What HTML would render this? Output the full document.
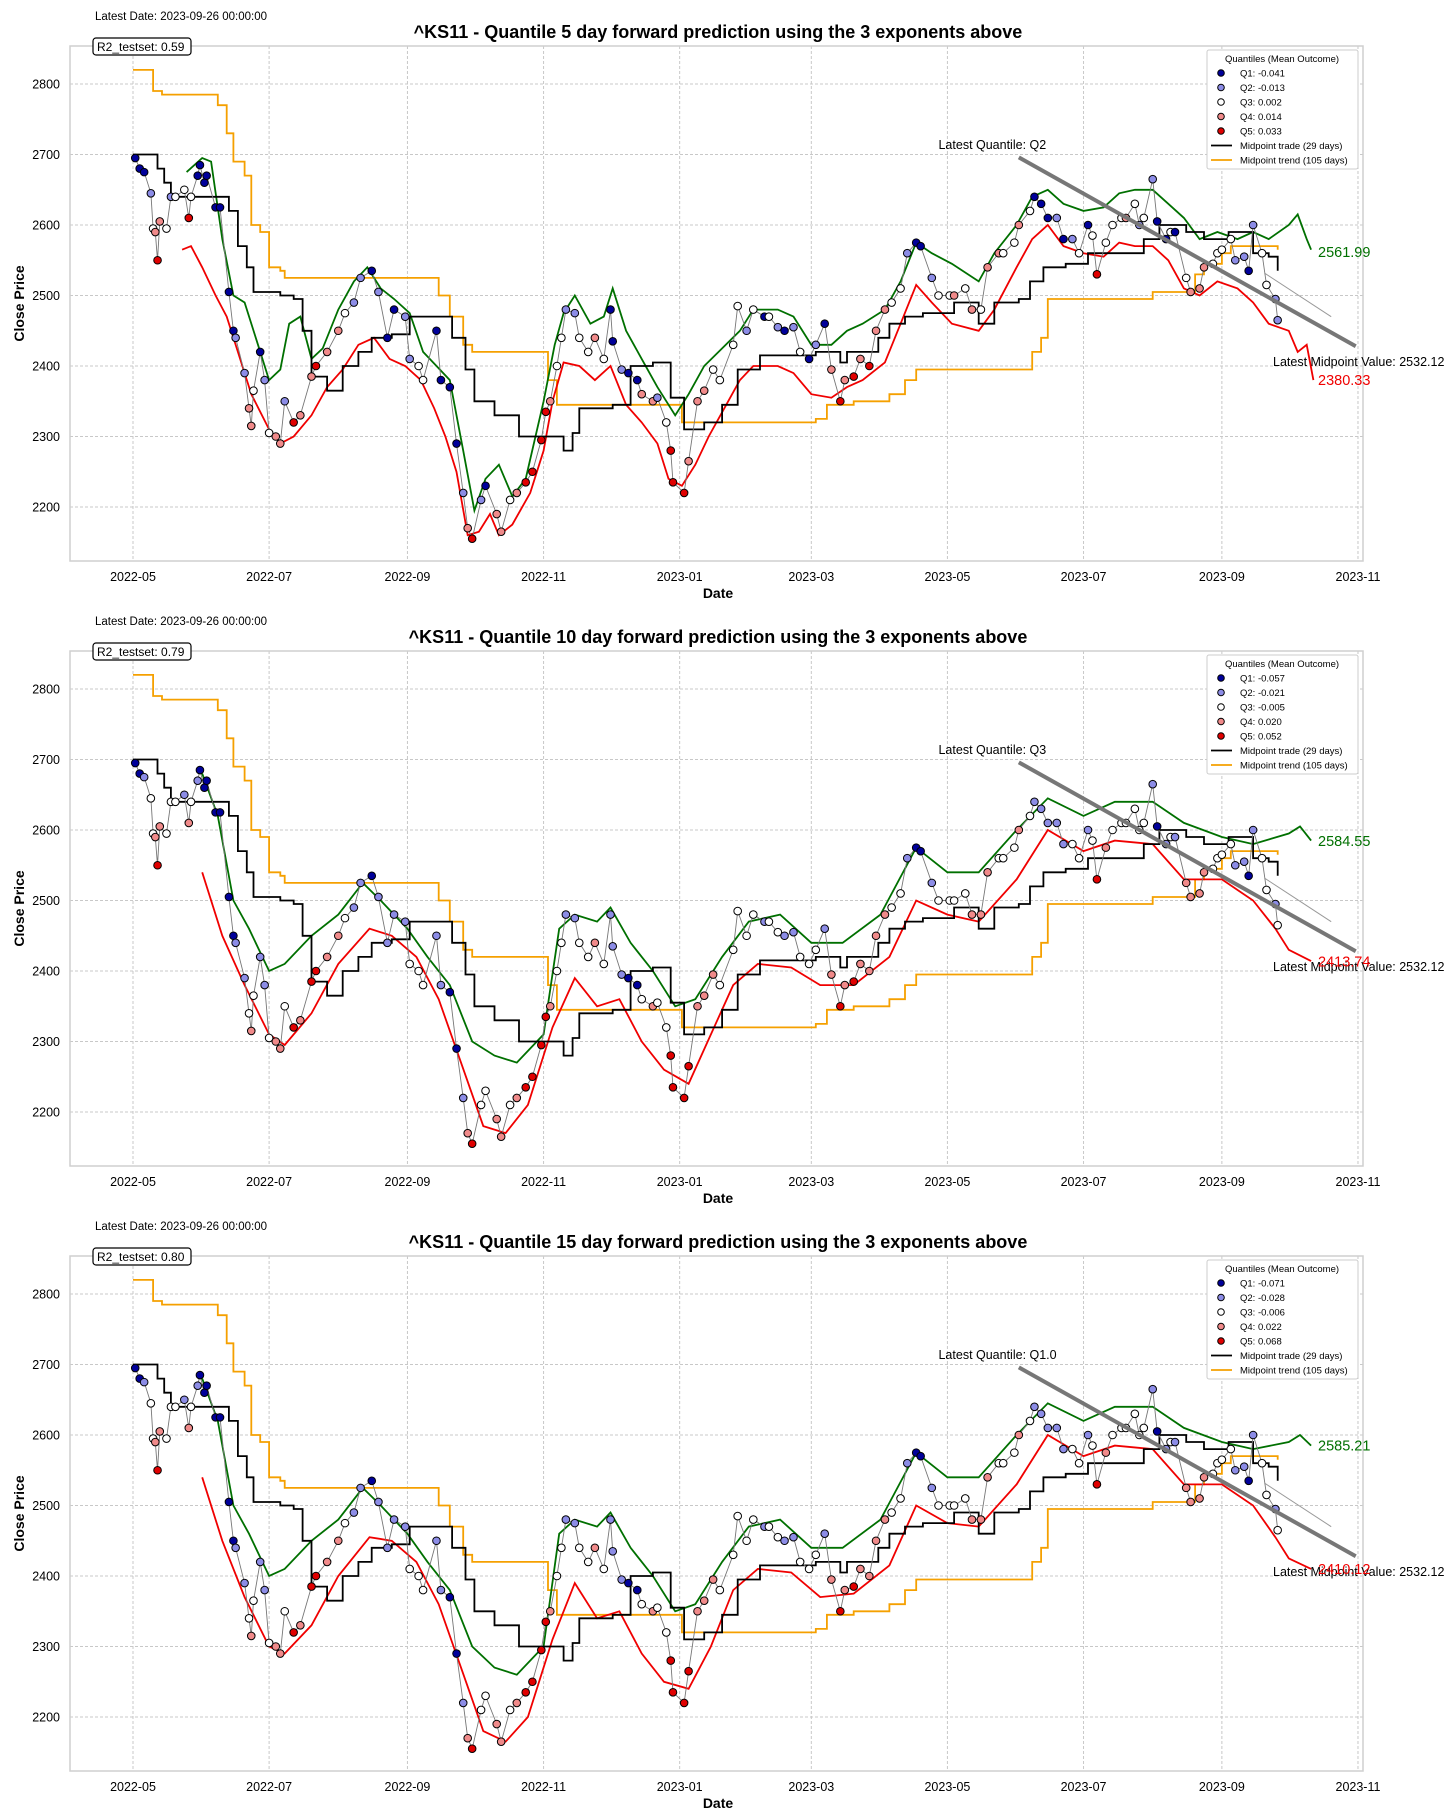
<!DOCTYPE html>
<html><head><meta charset="utf-8">
<style>
html,body{margin:0;padding:0;background:#fff;}
svg{display:block;font-family:"Liberation Sans",Arial,sans-serif;}
</style></head>
<body>
<svg id="chart" width="1456" height="1820" viewBox="0 0 1456 1820" xmlns="http://www.w3.org/2000/svg"></svg>
<script>
const dates=["2022-05-02","2022-05-04","2022-05-06","2022-05-09","2022-05-10","2022-05-11","2022-05-12","2022-05-13","2022-05-16","2022-05-18","2022-05-20","2022-05-24","2022-05-26","2022-05-27","2022-05-30","2022-05-31","2022-06-02","2022-06-03","2022-06-07","2022-06-09","2022-06-13","2022-06-15","2022-06-16","2022-06-20","2022-06-22","2022-06-23","2022-06-24","2022-06-27","2022-06-29","2022-07-01","2022-07-04","2022-07-06","2022-07-08","2022-07-12","2022-07-15","2022-07-20","2022-07-22","2022-07-27","2022-08-01","2022-08-04","2022-08-08","2022-08-11","2022-08-16","2022-08-19","2022-08-23","2022-08-26","2022-08-31","2022-09-02","2022-09-06","2022-09-08","2022-09-14","2022-09-16","2022-09-20","2022-09-23","2022-09-26","2022-09-28","2022-09-30","2022-10-04","2022-10-06","2022-10-11","2022-10-13","2022-10-17","2022-10-20","2022-10-24","2022-10-27","2022-10-31","2022-11-02","2022-11-04","2022-11-07","2022-11-09","2022-11-11","2022-11-15","2022-11-17","2022-11-21","2022-11-24","2022-11-28","2022-12-01","2022-12-02","2022-12-06","2022-12-09","2022-12-13","2022-12-15","2022-12-20","2022-12-22","2022-12-26","2022-12-28","2022-12-29","2023-01-03","2023-01-05","2023-01-09","2023-01-12","2023-01-16","2023-01-19","2023-01-25","2023-01-27","2023-01-31","2023-02-03","2023-02-08","2023-02-10","2023-02-14","2023-02-17","2023-02-21","2023-02-24","2023-02-28","2023-03-03","2023-03-07","2023-03-10","2023-03-14","2023-03-16","2023-03-20","2023-03-23","2023-03-27","2023-03-30","2023-04-03","2023-04-06","2023-04-10","2023-04-13","2023-04-17","2023-04-19","2023-04-24","2023-04-27","2023-05-02","2023-05-04","2023-05-09","2023-05-12","2023-05-16","2023-05-19","2023-05-24","2023-05-26","2023-05-31","2023-06-02","2023-06-07","2023-06-09","2023-06-12","2023-06-15","2023-06-19","2023-06-22","2023-06-26","2023-06-29","2023-07-03","2023-07-05","2023-07-07","2023-07-11","2023-07-14","2023-07-18","2023-07-20","2023-07-24","2023-07-26","2023-07-28","2023-08-01","2023-08-03","2023-08-07","2023-08-09","2023-08-11","2023-08-16","2023-08-18","2023-08-22","2023-08-24","2023-08-28","2023-08-30","2023-09-01","2023-09-05","2023-09-07","2023-09-11","2023-09-13","2023-09-15","2023-09-19","2023-09-21","2023-09-25","2023-09-26"];
const closes=[2695,2680,2675,2645,2595,2590,2550,2605,2595,2640,2640,2650,2610,2640,2670,2685,2660,2670,2625,2625,2505,2450,2440,2390,2340,2315,2365,2420,2380,2305,2300,2290,2350,2320,2330,2385,2400,2420,2450,2475,2490,2525,2535,2505,2440,2480,2470,2410,2400,2380,2450,2380,2370,2290,2220,2170,2155,2210,2230,2190,2165,2210,2220,2235,2250,2295,2335,2350,2400,2440,2480,2475,2440,2420,2440,2410,2480,2435,2395,2390,2380,2360,2350,2355,2320,2280,2235,2220,2265,2350,2365,2395,2380,2430,2485,2450,2480,2470,2470,2455,2450,2455,2420,2410,2430,2460,2395,2350,2380,2385,2410,2400,2450,2480,2490,2510,2560,2575,2570,2525,2500,2500,2500,2510,2480,2480,2540,2560,2560,2575,2600,2620,2640,2630,2610,2610,2580,2580,2560,2600,2585,2530,2575,2600,2610,2610,2630,2600,2610,2665,2605,2580,2590,2590,2525,2505,2510,2540,2545,2560,2565,2580,2550,2555,2535,2600,2560,2515,2495,2465];
const quantP1=[1,1,1,2,3,4,5,4,3,2,3,3,5,3,1,1,1,1,1,1,1,1,2,2,4,4,3,1,2,3,4,4,2,5,4,4,5,4,4,3,2,2,1,2,1,1,2,2,3,3,1,1,1,1,2,4,5,2,1,4,4,3,4,5,5,5,5,4,3,3,2,2,3,3,4,3,1,1,2,1,1,4,4,2,3,5,5,5,4,4,4,3,3,3,3,2,3,1,3,2,1,2,3,1,2,1,4,5,4,5,4,5,4,4,3,3,2,1,1,2,3,3,4,3,4,3,4,4,3,3,4,3,1,1,1,2,1,2,3,1,3,5,3,3,3,4,3,2,3,2,1,1,3,1,3,4,4,4,3,3,3,3,2,2,1,2,3,3,2,2];
const quantP23=[1,1,2,3,3,4,5,4,3,3,3,2,4,3,2,1,1,1,1,1,1,1,2,2,3,4,3,2,2,3,4,4,3,5,4,5,5,4,4,3,2,2,1,2,2,2,2,3,3,3,2,2,1,1,2,4,5,3,3,4,4,3,4,5,5,5,5,4,3,3,2,2,3,3,4,3,2,2,2,1,1,3,4,3,3,5,5,5,5,4,4,4,3,3,3,3,3,2,3,3,2,2,3,3,3,2,4,5,4,5,4,4,4,4,3,3,2,1,1,2,3,3,3,3,4,4,4,3,3,3,4,3,2,2,2,2,2,3,3,2,3,5,4,3,3,3,3,3,3,2,1,2,3,2,4,4,4,4,3,3,3,3,2,2,1,2,3,3,2,3];
const trendDates=["2022-05-01","2022-05-09","2022-05-10","2022-05-14","2022-06-03","2022-06-08","2022-06-12","2022-06-15","2022-06-20","2022-06-23","2022-06-27","2022-07-01","2022-07-06","2022-07-08","2022-09-12","2022-09-15","2022-09-20","2022-09-26","2022-09-30","2022-10-31","2022-11-03","2022-11-07","2022-12-30","2023-01-02","2023-02-28","2023-03-03","2023-03-08","2023-03-20","2023-04-05","2023-04-12","2023-04-17","2023-06-05","2023-06-08","2023-06-12","2023-06-15","2023-07-31","2023-08-01","2023-08-20","2023-08-24","2023-09-01","2023-09-05","2023-09-26"];
const trendVals=[2820,2820,2790,2785,2785,2770,2730,2690,2670,2600,2590,2540,2535,2525,2525,2500,2470,2430,2420,2420,2380,2345,2345,2320,2320,2325,2345,2350,2360,2380,2395,2395,2420,2440,2495,2495,2505,2530,2545,2560,2570,2565];
const tradeDates=["2022-05-01","2022-05-09","2022-05-12","2022-05-15","2022-05-18","2022-06-10","2022-06-13","2022-06-17","2022-06-21","2022-06-24","2022-07-06","2022-07-12","2022-07-16","2022-07-20","2022-07-27","2022-08-03","2022-08-10","2022-08-16","2022-08-25","2022-09-02","2022-09-16","2022-09-21","2022-09-27","2022-10-01","2022-10-10","2022-10-18","2022-10-21","2022-11-07","2022-11-10","2022-11-14","2022-11-17","2022-12-02","2022-12-10","2022-12-20","2022-12-28","2023-01-03","2023-01-12","2023-01-20","2023-01-27","2023-02-06","2023-02-27","2023-03-03","2023-03-14","2023-03-17","2023-03-31","2023-04-05","2023-04-12","2023-04-20","2023-05-04","2023-05-15","2023-05-22","2023-06-02","2023-06-07","2023-06-13","2023-06-23","2023-07-03","2023-07-20","2023-07-28","2023-08-04","2023-08-16","2023-08-24","2023-09-04","2023-09-15","2023-09-22","2023-09-26"];
const tradeVals=[2700,2700,2680,2660,2640,2640,2620,2570,2540,2505,2500,2495,2450,2385,2365,2400,2420,2440,2445,2470,2470,2440,2395,2350,2330,2330,2300,2300,2280,2305,2340,2345,2400,2405,2355,2310,2320,2345,2395,2415,2415,2420,2405,2420,2440,2460,2470,2475,2490,2460,2490,2495,2520,2540,2545,2560,2560,2580,2600,2590,2580,2590,2560,2555,2535];
const upperDatesP1=["2022-05-25","2022-06-01","2022-06-05","2022-06-10","2022-06-15","2022-06-20","2022-06-26","2022-07-01","2022-07-06","2022-07-10","2022-07-15","2022-07-20","2022-07-25","2022-08-01","2022-08-08","2022-08-14","2022-08-20","2022-08-26","2022-09-02","2022-09-08","2022-09-14","2022-09-20","2022-09-26","2022-10-01","2022-10-06","2022-10-12","2022-10-18","2022-10-24","2022-11-01","2022-11-06","2022-11-10","2022-11-15","2022-11-22","2022-11-28","2022-12-02","2022-12-08","2022-12-15","2022-12-22","2022-12-30","2023-01-05","2023-01-12","2023-01-20","2023-01-28","2023-02-03","2023-02-14","2023-02-21","2023-03-01","2023-03-10","2023-03-17","2023-03-24","2023-04-03","2023-04-10","2023-04-17","2023-04-24","2023-05-03","2023-05-15","2023-05-22","2023-06-01","2023-06-08","2023-06-15","2023-06-22","2023-07-01","2023-07-10","2023-07-17","2023-07-24","2023-08-01","2023-08-08","2023-08-15","2023-08-22","2023-08-30","2023-09-08","2023-09-15","2023-09-22","2023-10-01","2023-10-05","2023-10-09","2023-10-11"];
const upperValsP1=[2675,2695,2690,2580,2500,2490,2430,2380,2395,2460,2470,2410,2425,2480,2520,2540,2510,2495,2475,2420,2400,2380,2280,2195,2240,2260,2215,2240,2350,2430,2475,2500,2460,2470,2510,2450,2410,2370,2330,2360,2400,2425,2450,2480,2480,2470,2430,2430,2450,2460,2480,2520,2575,2560,2545,2520,2560,2600,2640,2650,2630,2620,2625,2645,2650,2650,2630,2610,2580,2590,2580,2590,2580,2600,2615,2580,2565];
const lowerDatesP1=["2022-05-23","2022-05-27","2022-06-01","2022-06-07","2022-06-12","2022-06-17","2022-06-23","2022-07-01","2022-07-06","2022-07-12","2022-07-20","2022-07-27","2022-08-03","2022-08-10","2022-08-17","2022-08-24","2022-08-31","2022-09-07","2022-09-13","2022-09-18","2022-09-23","2022-09-28","2022-10-03","2022-10-08","2022-10-12","2022-10-18","2022-10-26","2022-11-01","2022-11-05","2022-11-10","2022-11-17","2022-11-24","2022-12-01","2022-12-08","2022-12-15","2022-12-22","2022-12-27","2023-01-02","2023-01-08","2023-01-14","2023-01-21","2023-01-28","2023-02-03","2023-02-14","2023-02-21","2023-03-01","2023-03-10","2023-03-17","2023-03-24","2023-04-03","2023-04-10","2023-04-17","2023-04-24","2023-05-03","2023-05-15","2023-05-22","2023-06-01","2023-06-08","2023-06-15","2023-06-22","2023-07-01","2023-07-10","2023-07-17","2023-07-24","2023-08-01","2023-08-08","2023-08-15","2023-08-22","2023-08-30","2023-09-08","2023-09-15","2023-09-22","2023-10-01","2023-10-05","2023-10-09","2023-10-12"];
const lowerValsP1=[2565,2570,2540,2500,2470,2420,2360,2310,2290,2300,2330,2370,2395,2430,2440,2410,2400,2380,2340,2300,2250,2160,2165,2190,2160,2175,2220,2280,2350,2405,2400,2380,2400,2345,2320,2290,2240,2230,2260,2300,2340,2380,2400,2400,2390,2360,2355,2370,2380,2405,2460,2515,2490,2460,2450,2480,2540,2580,2600,2570,2560,2555,2575,2570,2570,2550,2510,2500,2520,2510,2490,2460,2450,2420,2430,2380];
const upperDatesP23=["2022-06-01","2022-06-08","2022-06-15","2022-06-22","2022-07-01","2022-07-08","2022-07-20","2022-08-01","2022-08-12","2022-08-20","2022-09-01","2022-09-10","2022-09-20","2022-09-30","2022-10-10","2022-10-20","2022-11-01","2022-11-08","2022-11-15","2022-11-25","2022-12-01","2022-12-10","2022-12-20","2022-12-30","2023-01-08","2023-01-20","2023-02-01","2023-02-15","2023-03-01","2023-03-15","2023-04-01","2023-04-17","2023-05-01","2023-05-15","2023-06-01","2023-06-15","2023-07-01","2023-07-15","2023-08-01","2023-08-15","2023-09-01","2023-09-15","2023-10-01","2023-10-06","2023-10-11"];
const upperValsP2=[2680,2620,2500,2460,2400,2410,2450,2480,2525,2500,2460,2420,2380,2300,2280,2270,2310,2460,2480,2470,2490,2440,2400,2350,2360,2420,2470,2480,2440,2440,2480,2575,2540,2540,2600,2645,2620,2640,2640,2610,2590,2580,2595,2605,2585];
const upperValsP3=[2680,2620,2500,2460,2400,2410,2450,2480,2525,2500,2460,2420,2380,2300,2270,2260,2300,2460,2480,2470,2490,2440,2400,2350,2360,2420,2470,2480,2440,2440,2480,2575,2540,2540,2600,2645,2620,2640,2640,2610,2590,2580,2590,2600,2585];
const lowerDatesP23=["2022-06-01","2022-06-10","2022-06-20","2022-07-01","2022-07-08","2022-07-20","2022-08-01","2022-08-15","2022-08-25","2022-09-05","2022-09-15","2022-09-25","2022-10-05","2022-10-15","2022-10-25","2022-11-05","2022-11-15","2022-11-25","2022-12-05","2022-12-15","2022-12-25","2023-01-05","2023-01-15","2023-01-25","2023-02-05","2023-02-20","2023-03-05","2023-03-20","2023-04-05","2023-04-17","2023-05-01","2023-05-15","2023-06-01","2023-06-15","2023-07-01","2023-07-15","2023-08-01","2023-08-15","2023-09-01","2023-09-15","2023-09-25","2023-10-01","2023-10-11"];
const lowerValsP2=[2540,2450,2380,2310,2295,2340,2410,2460,2450,2420,2360,2270,2180,2170,2210,2320,2390,2350,2360,2300,2260,2240,2310,2380,2410,2405,2380,2380,2420,2500,2480,2470,2530,2600,2570,2585,2580,2530,2530,2500,2460,2430,2414];
const lowerValsP3=[2540,2450,2370,2300,2290,2330,2400,2455,2450,2420,2360,2270,2180,2165,2200,2310,2390,2340,2350,2290,2250,2240,2300,2380,2410,2405,2370,2375,2415,2500,2475,2470,2530,2600,2570,2585,2580,2530,2530,2500,2455,2425,2410];
const yTicks=[2200,2300,2400,2500,2600,2700,2800];
const xTicks=["2022-05","2022-07","2022-09","2022-11","2023-01","2023-03","2023-05","2023-07","2023-09","2023-11"];
const horizons=[5,10,15];
const r2Values=["0.59","0.79","0.80"];
const latestQuant=["Q2","Q3","Q1.0"];
const upperLabels=["2561.99","2584.55","2585.21"];
const lowerLabels=["2380.33","2413.74","2410.12"];
const legendLabelsP1=["Q1: -0.041","Q2: -0.013","Q3: 0.002","Q4: 0.014","Q5: 0.033"];
const legendLabelsP2=["Q1: -0.057","Q2: -0.021","Q3: -0.005","Q4: 0.020","Q5: 0.052"];
const legendLabelsP3=["Q1: -0.071","Q2: -0.028","Q3: -0.006","Q4: 0.022","Q5: 0.068"];

const NS="http://www.w3.org/2000/svg";
const svg=document.getElementById('chart');
const L=70,R=1363,T=46,B=561;
const t0=Date.UTC(2022,4,1);
function xs(d){const p=d.split('-');const t=Date.UTC(+p[0],+p[1]-1,p[2]?+p[2]:1);return 133+(t-t0)/86400000*2.2313;}
function ys(v){return 84+(2800-v)*0.705;}
function el(tag,attrs,parent,txt){const e=document.createElementNS(NS,tag);for(const k in attrs)e.setAttribute(k,attrs[k]);if(txt!==undefined)e.textContent=txt;parent.appendChild(e);return e;}
const qColors=["#00009a","#8c8ce6","#ffffff","#f08a8a","#e00000"];

function pathOf(ds,vs){let s='';const n=Math.min(ds.length,vs.length);for(let i=0;i<n;i++)s+=(i?'L':'M')+xs(ds[i]).toFixed(1)+','+ys(vs[i]).toFixed(1);return s;}
function stepPath(ds,vs){let s='';const n=Math.min(ds.length,vs.length);for(let i=0;i<n;i++){const x=xs(ds[i]).toFixed(1),y=ys(vs[i]).toFixed(1);if(i===0)s='M'+x+','+y;else s+='H'+x+'V'+y;}return s;}

const panelCfg=[
 {up:[upperDatesP1,upperValsP1],lo:[lowerDatesP1,lowerValsP1],q:quantP1,leg:legendLabelsP1},
 {up:[upperDatesP23,upperValsP2],lo:[lowerDatesP23,lowerValsP2],q:quantP23,leg:legendLabelsP2},
 {up:[upperDatesP23,upperValsP3],lo:[lowerDatesP23,lowerValsP3],q:quantP23,leg:legendLabelsP3}
];

panelCfg.forEach((cfg,k)=>{
 const g=el('g',{transform:'translate(0,'+(k*605)+')'},svg);
 
 
 const t1=el('text',{x:95,y:20,'font-size':11.5,fill:'#000'},g,'Latest Date: 2023-09-26 00:00:00');
 
 
 const tt=el('text',{x:718,y:38,'font-size':18,'font-weight':'bold','text-anchor':'middle'},g,'^KS11 - Quantile '+horizons[k]+' day forward prediction using the 3 exponents above');
 
 
 yTicks.forEach(v=>{
  const gl=el('line',{x1:L,x2:R,y1:ys(v),y2:ys(v),stroke:'#c8c8c8','stroke-width':1,'stroke-dasharray':'3,2'},g);
  
  
  const tl=el('text',{x:60,y:ys(v)+4.5,'font-size':12.5,'text-anchor':'end'},g,String(v));
  
  
 });
 xTicks.forEach(d=>{
  const x=xs(d);
  const gl=el('line',{x1:x,x2:x,y1:T,y2:B,stroke:'#c8c8c8','stroke-width':1,'stroke-dasharray':'3,2'},g);
  
  
  const tl=el('text',{x:x,y:581,'font-size':12.5,'text-anchor':'middle'},g,d);
  
  
 });
 const fr=el('rect',{x:L,y:T,width:R-L,height:B-T,fill:'none',stroke:'#cfcfcf','stroke-width':1.5},g);
 
 
 const xl=el('text',{x:718,y:598,'font-size':14,'font-weight':'bold','text-anchor':'middle'},g,'Date');
 
 
 const yl=el('text',{x:0,y:0,'font-size':14,'font-weight':'bold','text-anchor':'middle',transform:'translate(24,'+((T+B)/2)+') rotate(-90)'},g,'Close Price');
 
 
 const pt=el('path',{d:stepPath(trendDates,trendVals),fill:'none',stroke:'#f5a000','stroke-width':1.8},g);
 
 
 const pu=el('path',{d:pathOf(cfg.up[0],cfg.up[1]),fill:'none',stroke:'#007000','stroke-width':1.8},g);
 
 
 const pl=el('path',{d:pathOf(cfg.lo[0],cfg.lo[1]),fill:'none',stroke:'#f00000','stroke-width':1.8},g);
 
 
 const pm=el('path',{d:stepPath(tradeDates,tradeVals),fill:'none',stroke:'#000','stroke-width':1.8},g);
 
 
 const pc=el('path',{d:pathOf(dates,closes),fill:'none',stroke:'#777','stroke-width':0.9},g);
 
 
 const n=Math.min(dates.length,closes.length);
 for(let i=0;i<n;i++){
  const q=cfg.q[i]||3;
  const c=el('circle',{cx:xs(dates[i]),cy:ys(closes[i]),r:3.8,fill:qColors[q-1],stroke:'#000','stroke-width':1},g);
  
  
 }
 const al=el('line',{x1:xs('2023-06-02'),y1:ys(2696),x2:xs('2023-10-31'),y2:ys(2428),stroke:'#777','stroke-width':4},g);
 
 
 const tl2=el('line',{x1:xs('2023-09-20'),y1:ys(2532),x2:xs('2023-10-20'),y2:ys(2470),stroke:'#999','stroke-width':1},g);
 
 
 const aq=el('text',{x:xs('2023-04-27'),y:ys(2708),'font-size':12.5},g,'Latest Quantile: '+latestQuant[k]);
 
 
 const mv=el('text',{x:1273,y:ys(2400),'font-size':12.5},g,'Latest Midpoint Value: 2532.12');
 
 
 const ul=el('text',{x:1318,y:ys(+upperLabels[k])+5,'font-size':14.5,fill:'#007000'},g,upperLabels[k]);
 
 
 const ll=el('text',{x:1318,y:ys(+lowerLabels[k])+5,'font-size':14.5,fill:'#f00000'},g,lowerLabels[k]);
 
 
 const rb=el('rect',{x:93,y:38,width:98,height:17,rx:3,fill:'#fff',stroke:'#000','stroke-width':1.2},g);
 
 
 const rt=el('text',{x:97,y:51,'font-size':12},g,'R2_testset: '+r2Values[k]);
 
 
 const lg=el('g',{},g);
 
 
 el('rect',{x:1207,y:50,width:151,height:119,rx:2,fill:'#fff',stroke:'#ccc','stroke-width':1},lg);
 el('text',{x:1282,y:62,'font-size':9.5,'text-anchor':'middle'},lg,'Quantiles (Mean Outcome)');
 cfg.leg.forEach((lab,i)=>{
  const yy=73+i*14.5;
  const m=el('circle',{cx:1221,cy:yy,r:3.3,fill:qColors[i],stroke:'#000','stroke-width':1},lg);
  
  
  const tx=el('text',{x:1240,y:yy+3.5,'font-size':9.5},lg,lab);
  
  
 });
 [['#000','Midpoint trade (29 days)'],['#f5a000','Midpoint trend (105 days)']].forEach((e,i)=>{
  const yy=145.5+i*14.5;
  el('line',{x1:1211,x2:1232,y1:yy,y2:yy,stroke:e[0],'stroke-width':1.8},lg);
  const tx=el('text',{x:1240,y:yy+3.5,'font-size':9.5},lg,e[1]);
  
  
 });
});
</script>
</body></html>
